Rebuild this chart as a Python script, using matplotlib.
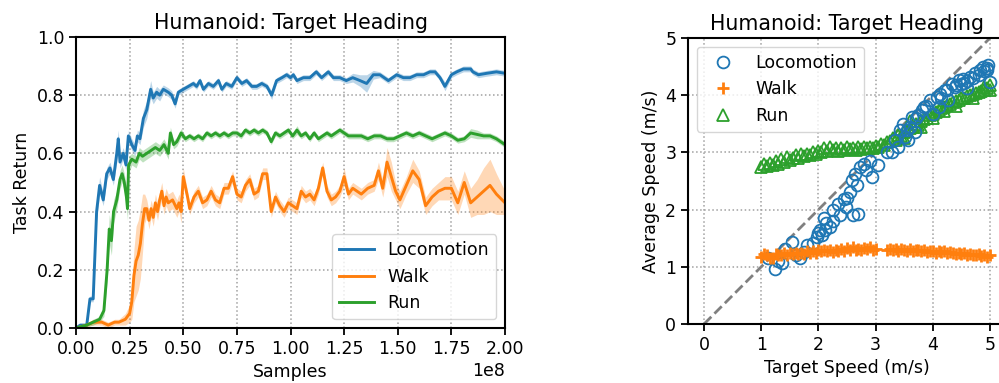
import matplotlib
matplotlib.use("Agg")
import matplotlib.pyplot as plt
import numpy as np

# ---- left panel: learning curves (x in units of 1e8 samples) ----
loco_x = [0.0, 0.02, 0.05, 0.065, 0.08, 0.096, 0.11, 0.127, 0.143, 0.158,
          0.174, 0.19, 0.197, 0.205, 0.22, 0.233, 0.244, 0.26, 0.275, 0.286,
          0.298, 0.314, 0.33, 0.348, 0.36, 0.376, 0.39, 0.407, 0.43, 0.446,
          0.462, 0.477, 0.5, 0.524, 0.547, 0.562, 0.578, 0.594, 0.617, 0.64,
          0.664, 0.68, 0.70, 0.726, 0.75, 0.773, 0.795, 0.82, 0.842, 0.866,
          0.89, 0.912, 0.935, 0.96, 0.982, 1.0, 1.013, 1.03, 1.06, 1.09,
          1.12, 1.145, 1.176, 1.2, 1.23, 1.26, 1.29, 1.324, 1.355, 1.386,
          1.417, 1.456, 1.495, 1.526, 1.557, 1.588, 1.62, 1.65, 1.674, 1.697,
          1.72, 1.75, 1.775, 1.806, 1.84, 1.85, 1.876, 1.915, 1.96, 2.0]
loco_y = [0.0, 0.01, 0.01, 0.1, 0.1, 0.4, 0.49, 0.44, 0.53, 0.55,
          0.51, 0.6, 0.65, 0.57, 0.6, 0.56, 0.66, 0.63, 0.61, 0.66,
          0.65, 0.72, 0.75, 0.82, 0.79, 0.81, 0.80, 0.82, 0.81, 0.80,
          0.77, 0.81, 0.82, 0.83, 0.84, 0.83, 0.85, 0.82, 0.84, 0.83,
          0.85, 0.82, 0.84, 0.83, 0.86, 0.84, 0.85, 0.83, 0.83, 0.84,
          0.83, 0.80, 0.85, 0.86, 0.87, 0.86, 0.87, 0.85, 0.86, 0.86,
          0.88, 0.86, 0.88, 0.86, 0.86, 0.85, 0.86, 0.85, 0.84, 0.87,
          0.87, 0.85, 0.87, 0.86, 0.86, 0.87, 0.87, 0.88, 0.88, 0.86,
          0.83, 0.87, 0.88, 0.89, 0.89, 0.88, 0.87, 0.875, 0.88, 0.875]
loco_sd = [0.005, 0.005, 0.005, 0.01, 0.01, 0.03, 0.03, 0.02, 0.02, 0.02,
           0.02, 0.03, 0.03, 0.02, 0.02, 0.02, 0.02, 0.02, 0.02, 0.02,
           0.02, 0.03, 0.03, 0.03, 0.02, 0.02, 0.02, 0.015, 0.015, 0.015,
           0.015, 0.01, 0.01, 0.01, 0.01, 0.01, 0.01, 0.01, 0.01, 0.01,
           0.01, 0.01, 0.01, 0.01, 0.01, 0.01, 0.01, 0.01, 0.01, 0.01,
           0.01, 0.015, 0.01, 0.01, 0.01, 0.01, 0.01, 0.01, 0.01, 0.01,
           0.01, 0.01, 0.01, 0.01, 0.01, 0.01, 0.015, 0.02, 0.03, 0.015,
           0.01, 0.01, 0.01, 0.01, 0.01, 0.01, 0.01, 0.01, 0.01, 0.01,
           0.015, 0.01, 0.01, 0.01, 0.01, 0.01, 0.01, 0.01, 0.01, 0.01]

walk_x = [0.0, 0.05, 0.08, 0.12, 0.15, 0.18, 0.2, 0.23, 0.25, 0.26,
          0.27, 0.28, 0.29, 0.3, 0.31, 0.32, 0.33, 0.34, 0.35, 0.36,
          0.37, 0.38, 0.39, 0.4, 0.41, 0.42, 0.43, 0.45, 0.47, 0.48,
          0.49, 0.5, 0.52, 0.53, 0.55, 0.57, 0.59, 0.61, 0.63, 0.65,
          0.67, 0.69, 0.71, 0.73, 0.75, 0.77, 0.79, 0.81, 0.83, 0.85,
          0.87, 0.89, 0.91, 0.93, 0.95, 0.97, 0.99, 1.01, 1.03, 1.05,
          1.07, 1.09, 1.11, 1.13, 1.15, 1.17, 1.19, 1.21, 1.23, 1.25,
          1.27, 1.29, 1.31, 1.33, 1.36, 1.39, 1.41, 1.43, 1.45, 1.47,
          1.49, 1.51, 1.54, 1.57, 1.6, 1.63, 1.66, 1.69, 1.72, 1.75,
          1.78, 1.81, 1.84, 1.87, 1.9, 1.93, 1.96, 2.0]
walk_y = [0.0, 0.01, 0.02, 0.02, 0.01, 0.02, 0.02, 0.03, 0.05, 0.09,
          0.18, 0.23, 0.25, 0.29, 0.36, 0.41, 0.41, 0.37, 0.41, 0.38,
          0.43, 0.40, 0.44, 0.47, 0.42, 0.45, 0.43, 0.44, 0.41, 0.43,
          0.40, 0.52, 0.45, 0.41, 0.45, 0.47, 0.43, 0.44, 0.47, 0.44,
          0.43, 0.48, 0.48, 0.52, 0.46, 0.45, 0.49, 0.51, 0.46, 0.47,
          0.53, 0.53, 0.40, 0.45, 0.42, 0.40, 0.43, 0.42, 0.41, 0.47,
          0.45, 0.46, 0.44, 0.48, 0.55, 0.47, 0.44, 0.45, 0.47, 0.52,
          0.46, 0.48, 0.47, 0.46, 0.48, 0.49, 0.54, 0.48, 0.57, 0.52,
          0.47, 0.44, 0.49, 0.54, 0.51, 0.42, 0.45, 0.47, 0.48, 0.48,
          0.43, 0.50, 0.43, 0.45, 0.47, 0.49, 0.46, 0.43]
walk_sd = [0.005, 0.005, 0.01, 0.01, 0.01, 0.01, 0.01, 0.02, 0.03, 0.06,
           0.09, 0.12, 0.12, 0.12, 0.1, 0.05, 0.03, 0.03, 0.03, 0.03,
           0.03, 0.03, 0.03, 0.03, 0.03, 0.03, 0.03, 0.03, 0.03, 0.03,
           0.04, 0.03, 0.02, 0.02, 0.02, 0.02, 0.02, 0.02, 0.02, 0.02,
           0.02, 0.02, 0.02, 0.02, 0.02, 0.02, 0.02, 0.02, 0.02, 0.02,
           0.02, 0.02, 0.02, 0.02, 0.02, 0.02, 0.02, 0.02, 0.02, 0.02,
           0.02, 0.02, 0.02, 0.02, 0.02, 0.02, 0.02, 0.02, 0.02, 0.03,
           0.02, 0.02, 0.02, 0.02, 0.02, 0.02, 0.03, 0.03, 0.05, 0.05,
           0.03, 0.03, 0.03, 0.04, 0.03, 0.03, 0.03, 0.03, 0.04, 0.04,
           0.04, 0.04, 0.05, 0.06, 0.08, 0.09, 0.07, 0.04]

run_x = [0.0, 0.05, 0.08, 0.11, 0.13, 0.145, 0.155, 0.165, 0.175, 0.19,
         0.205, 0.215, 0.225, 0.235, 0.24, 0.245, 0.26, 0.28, 0.295, 0.31,
         0.33, 0.35, 0.37, 0.39, 0.41, 0.43, 0.44, 0.455, 0.47, 0.49,
         0.51, 0.53, 0.55, 0.57, 0.59, 0.61, 0.63, 0.65, 0.67, 0.69,
         0.71, 0.73, 0.75, 0.77, 0.79, 0.81, 0.83, 0.85, 0.87, 0.89,
         0.91, 0.93, 0.95, 0.97, 0.99, 1.01, 1.03, 1.05, 1.07, 1.09,
         1.11, 1.13, 1.15, 1.17, 1.19, 1.21, 1.23, 1.25, 1.27, 1.3,
         1.33, 1.36, 1.39, 1.42, 1.45, 1.48, 1.51, 1.54, 1.57, 1.6,
         1.63, 1.66, 1.69, 1.72, 1.75, 1.78, 1.81, 1.84, 1.87, 1.9,
         1.93, 1.96, 2.0]
run_y = [0.0, 0.01, 0.02, 0.03, 0.06, 0.2, 0.34, 0.3, 0.4, 0.44,
         0.51, 0.53, 0.5, 0.45, 0.41, 0.56, 0.58, 0.57, 0.6, 0.59,
         0.6, 0.61, 0.62, 0.61, 0.63, 0.60, 0.67, 0.63, 0.64, 0.67,
         0.65, 0.66, 0.65, 0.66, 0.65, 0.67, 0.66, 0.67, 0.66, 0.67,
         0.66, 0.67, 0.67, 0.66, 0.68, 0.67, 0.68, 0.67, 0.68, 0.67,
         0.64, 0.67, 0.66, 0.67, 0.68, 0.66, 0.68, 0.66, 0.67, 0.65,
         0.67, 0.65, 0.66, 0.67, 0.66, 0.67, 0.68, 0.67, 0.66, 0.66,
         0.66, 0.65, 0.66, 0.66, 0.65, 0.65, 0.66, 0.67, 0.66, 0.67,
         0.66, 0.65, 0.66, 0.67, 0.66, 0.645, 0.65, 0.67, 0.665, 0.66,
         0.66, 0.65, 0.63]
run_sd = [0.005, 0.005, 0.01, 0.01, 0.02, 0.04, 0.05, 0.05, 0.04, 0.03,
          0.03, 0.03, 0.03, 0.04, 0.04, 0.03, 0.02, 0.02, 0.02, 0.02,
          0.02, 0.02, 0.02, 0.02, 0.02, 0.02, 0.02, 0.015, 0.015, 0.015,
          0.01, 0.01, 0.01, 0.01, 0.01, 0.01, 0.01, 0.01, 0.01, 0.01,
          0.01, 0.01, 0.01, 0.01, 0.01, 0.01, 0.01, 0.01, 0.01, 0.01,
          0.01, 0.01, 0.01, 0.01, 0.01, 0.01, 0.015, 0.01, 0.01, 0.01,
          0.01, 0.01, 0.01, 0.01, 0.01, 0.01, 0.01, 0.01, 0.01, 0.01,
          0.01, 0.01, 0.01, 0.01, 0.01, 0.01, 0.01, 0.01, 0.01, 0.01,
          0.01, 0.01, 0.01, 0.01, 0.01, 0.01, 0.01, 0.015, 0.015, 0.01,
          0.01, 0.01, 0.01]

# ---- right panel: target speed vs achieved speed (m/s) ----
loco_tx = [1.12, 1.24, 1.3, 1.36, 1.41, 1.53, 1.6, 1.68, 1.74, 1.8,
           1.91, 1.97, 2.0, 2.03, 2.06, 2.09, 2.12, 2.14, 2.2, 2.25,
           2.26, 2.35, 2.38, 2.44, 2.49, 2.5, 2.55, 2.58, 2.61, 2.64,
           2.67, 2.7, 2.73, 2.79, 2.84, 2.9, 2.93, 3.05, 3.2, 3.28,
           3.34, 3.4, 3.43, 3.48, 3.51, 3.57, 3.6, 3.63, 3.69, 3.75,
           3.81, 3.89, 3.95, 4.01, 4.07, 4.1, 4.13, 4.21, 4.27, 4.33,
           4.39, 4.45, 4.5, 4.53, 4.59, 4.65, 4.74, 4.83, 4.88, 4.94,
           4.97, 5.0, 4.6, 4.7, 4.8, 4.9, 4.95, 4.4, 4.25, 3.85,
           3.7, 3.55, 4.15, 4.55]
loco_ty = [1.15, 0.97, 1.1, 1.06, 1.32, 1.44, 1.2, 1.15, 1.26, 1.38,
           1.41, 1.52, 1.6, 1.64, 1.55, 1.85, 1.64, 1.76, 1.7, 1.8,
           1.99, 2.1, 1.9, 2.19, 2.05, 2.2, 2.3, 2.51, 1.9, 2.63,
           2.43, 1.93, 2.75, 2.8, 2.69, 2.85, 2.57, 2.78, 3.0, 3.01,
           3.21, 3.1, 3.39, 3.5, 3.27, 3.21, 3.45, 3.62, 3.36, 3.65,
           3.74, 3.82, 3.91, 3.68, 3.97, 3.8, 4.03, 4.09, 3.91, 4.2,
           4.14, 4.26, 4.2, 4.29, 4.12, 4.32, 4.38, 4.44, 4.49, 4.44,
           4.52, 4.23, 4.25, 4.3, 4.35, 4.42, 4.48, 4.18, 4.1, 3.8,
           3.6, 3.4, 3.95, 4.22]

walk_tx = [1.0, 1.05, 1.1, 1.15, 1.2, 1.25, 1.3, 1.35, 1.4, 1.45,
           1.5, 1.55, 1.6, 1.65, 1.7, 1.75, 1.8, 1.85, 1.9, 1.95,
           2.0, 2.05, 2.1, 2.15, 2.2, 2.25, 2.3, 2.35, 2.4, 2.45,
           2.5, 2.55, 2.6, 2.65, 2.7, 2.75, 2.8, 2.85, 2.9, 2.95,
           3.0, 3.2, 3.25, 3.3, 3.35, 3.4, 3.45, 3.5, 3.55, 3.6,
           3.65, 3.7, 3.75, 3.8, 3.85, 3.9, 3.95, 4.0, 4.05, 4.1,
           4.15, 4.2, 4.25, 4.3, 4.35, 4.4, 4.45, 4.5, 4.55, 4.6,
           4.65, 4.7, 4.75, 4.8, 4.85, 4.9, 4.95, 5.0]
walk_ty = [1.18, 1.22, 1.2, 1.16, 1.15, 1.22, 1.21, 1.2, 1.24, 1.21,
           1.25, 1.22, 1.24, 1.22, 1.25, 1.23, 1.27, 1.25, 1.28, 1.25,
           1.3, 1.27, 1.29, 1.27, 1.3, 1.26, 1.29, 1.27, 1.31, 1.28,
           1.33, 1.3, 1.34, 1.3, 1.32, 1.29, 1.33, 1.31, 1.34, 1.3,
           1.32, 1.3, 1.32, 1.29, 1.31, 1.28, 1.32, 1.3, 1.28, 1.31,
           1.27, 1.29, 1.3, 1.27, 1.29, 1.26, 1.28, 1.27, 1.25, 1.28,
           1.26, 1.27, 1.24, 1.26, 1.25, 1.23, 1.25, 1.22, 1.24, 1.2,
           1.23, 1.21, 1.2, 1.22, 1.19, 1.2, 1.18, 1.2]

run_tx = [1.0, 1.05, 1.1, 1.15, 1.2, 1.25, 1.3, 1.35, 1.4, 1.45,
          1.5, 1.55, 1.6, 1.65, 1.7, 1.75, 1.8, 1.85, 1.9, 1.95,
          2.0, 2.05, 2.1, 2.15, 2.2, 2.25, 2.3, 2.35, 2.4, 2.45,
          2.5, 2.55, 2.6, 2.65, 2.7, 2.75, 2.8, 2.85, 2.9, 2.95,
          3.0, 3.05, 3.1, 3.15, 3.2, 3.25, 3.3, 3.35, 3.4, 3.45,
          3.5, 3.55, 3.6, 3.65, 3.7, 3.75, 3.8, 3.85, 3.9, 3.95,
          4.0, 4.05, 4.1, 4.15, 4.2, 4.25, 4.3, 4.35, 4.4, 4.45,
          4.5, 4.55, 4.6, 4.65, 4.7, 4.75, 4.8, 4.85, 4.9, 4.95,
          5.0, 3.6, 3.8, 4.0, 4.2, 4.4, 4.7, 4.9, 5.0, 3.5]
run_ty = [2.75, 2.8, 2.77, 2.82, 2.78, 2.85, 2.8, 2.88, 2.83, 2.92,
          2.87, 2.9, 2.95, 2.9, 2.97, 2.93, 2.98, 2.95, 3.0, 2.97,
          3.02, 3.0, 3.08, 3.03, 3.1, 3.04, 3.07, 3.02, 3.08, 3.05,
          3.1, 3.06, 3.08, 3.04, 3.1, 3.06, 3.09, 3.07, 3.1, 3.08,
          3.12, 3.1, 3.15, 3.13, 3.18, 3.2, 3.25, 3.22, 3.3, 3.28,
          3.35, 3.38, 3.42, 3.45, 3.5, 3.48, 3.55, 3.58, 3.6, 3.65,
          3.68, 3.7, 3.75, 3.78, 3.8, 3.83, 3.85, 3.88, 3.9, 3.92,
          3.95, 3.96, 3.98, 4.0, 4.02, 4.04, 4.06, 4.07, 4.1, 4.12,
          4.1, 3.55, 3.45, 3.6, 3.72, 3.82, 3.95, 4.15, 4.18, 3.25]

labels = ["Locomotion", "Walk", "Run"]
colors = ["#1f77b4", "#ff7f0e", "#2ca02c"]
fs = 12.5

fig = plt.figure(figsize=(9.99, 3.83), dpi=100)

# left panel
ax1 = fig.add_axes([0.0761, 0.1436, 0.4294, 0.760])
curves = [(loco_x, loco_y, loco_sd), (walk_x, walk_y, walk_sd), (run_x, run_y, run_sd)]
for (xs, ys, sd), lab, c in zip(curves, labels, colors):
    x = np.array(xs) * 1e8
    y = np.array(ys)
    s = np.array(sd)
    ax1.fill_between(x, y - s, y + s, color=c, alpha=0.3, lw=0)
    ax1.plot(x, y, color=c, lw=2.1, label=lab)
ax1.set_xlim(0, 2e8)
ax1.set_ylim(0, 1)
ax1.set_xticks(np.arange(0, 2.01e8, 0.25e8))
ax1.set_yticks(np.arange(0, 1.01, 0.2))
ax1.set_title("Humanoid: Target Heading", fontsize=14.8)
ax1.set_xlabel("Samples", fontsize=fs)
ax1.set_ylabel("Task Return", fontsize=fs)
ax1.xaxis.get_offset_text().set_fontsize(fs)
ax1.legend(loc="lower right", fontsize=fs)

# right panel
ax2 = fig.add_axes([0.6887, 0.154, 0.3183, 0.7467])
ax2.plot([0, 5.3], [0, 5.3], "--", color="#808080", lw=2, zorder=1)
ax2.plot(loco_tx, loco_ty, "o", ms=8.5, mfc="none", mec=colors[0], mew=1.3,
         label=labels[0], zorder=3)
ax2.plot(walk_tx, walk_ty, "+", ms=9, color=colors[1], mew=2,
         label=labels[1], zorder=3)
ax2.plot(run_tx, run_ty, "^", ms=8.5, mfc="none", mec=colors[2], mew=1.3,
         label=labels[2], zorder=2)
ax2.set_xlim(-0.28, 5.28)
ax2.set_ylim(0, 5)
ax2.set_xticks(range(6))
ax2.set_yticks(range(6))
ax2.set_title("Humanoid: Target Heading", fontsize=14.8)
ax2.set_xlabel("Target Speed (m/s)", fontsize=fs)
ax2.set_ylabel("Average Speed (m/s)", fontsize=fs)
ax2.legend(loc="upper left", fontsize=fs, numpoints=1, handlelength=2.2)

for ax in (ax1, ax2):
    ax.grid(True, linestyle=":", color="#a0a0a0", lw=1.1)
    ax.set_axisbelow(True)
    ax.tick_params(labelsize=fs, width=1.3, length=5)
    for sp in ax.spines.values():
        sp.set_linewidth(1.5)

fig.savefig("out.png", dpi=100)
